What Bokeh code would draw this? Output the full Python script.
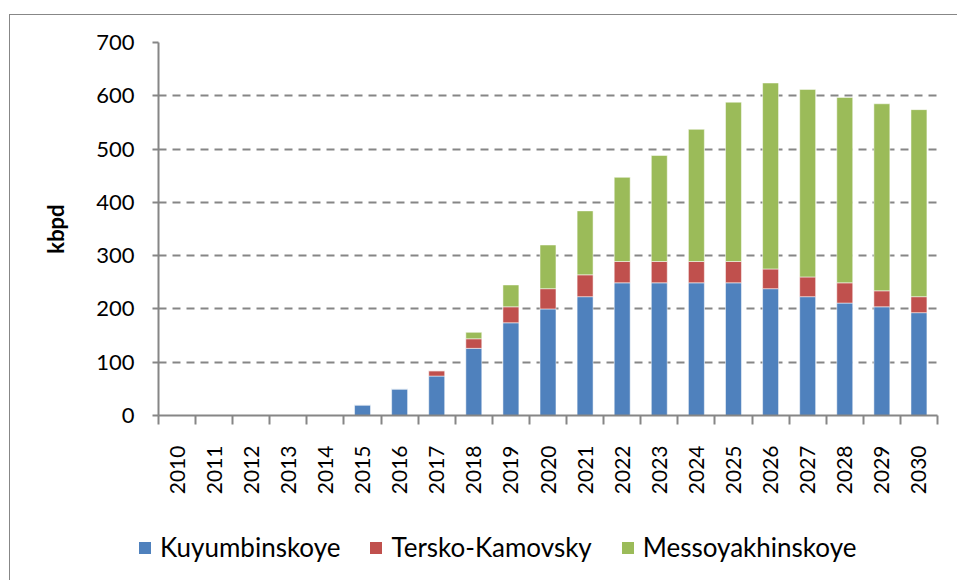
import math
from bokeh.plotting import figure
from bokeh.layouts import column
from bokeh.models import Range1d, FixedTicker, Legend, LegendItem
from bokeh.embed import file_html
from bokeh.resources import INLINE

years = list(range(2010, 2031))
series_names = ["Kuyumbinskoye", "Tersko-Kamovsky", "Messoyakhinskoye"]
kuyumbinskoye = [0, 0, 0, 0, 0, 20, 50, 74, 126, 174, 200, 223, 249, 249, 249, 249, 238, 223, 211, 204, 193]
tersko_kamovsky = [0, 0, 0, 0, 0, 0, 0, 10, 18, 30, 38, 41, 40, 40, 40, 40, 37, 37, 38, 30, 30]
messoyakhinskoye = [0, 0, 0, 0, 0, 0, 0, 0, 12, 41, 82, 120, 158, 199, 248, 299, 349, 352, 348, 351, 351]
y_ticks = [0, 100, 200, 300, 400, 500, 600, 700]
colors = ["#4F81BD", "#C0504D", "#9BBB59"]

FONT = "Lato"
n = len(years)
xc = [i + 0.5 for i in range(n)]
data = dict(x=xc, Kuyumbinskoye=kuyumbinskoye, **{"Tersko-Kamovsky": tersko_kamovsky},
            Messoyakhinskoye=messoyakhinskoye)

p = figure(width=947, height=495, output_backend="svg", toolbar_location=None,
           x_range=Range1d(0, n), y_range=Range1d(0, 700),
           min_border_left=148, min_border_right=20, min_border_top=27, min_border_bottom=95)
p.frame_align = False
p.outline_line_color = None
p.background_fill_color = "white"
p.border_fill_color = "white"

rs = p.vbar_stack(series_names, x="x", width=0.43, source=data, color=colors,
                  line_color="white", line_alpha=0.5, line_width=1)

# axes
p.xgrid.visible = False
p.ygrid.grid_line_color = "#868686"
p.ygrid.grid_line_width = 2
p.ygrid.grid_line_dash = "8 6"
p.yaxis.ticker = FixedTicker(ticks=y_ticks)
p.yaxis.axis_line_color = "#868686"
p.yaxis.axis_line_width = 2
p.yaxis.major_tick_line_color = "#868686"
p.yaxis.major_tick_line_width = 2
p.yaxis.major_tick_in = 0
p.yaxis.major_tick_out = 6
p.yaxis.minor_tick_line_color = None
p.yaxis.major_label_text_font = FONT
p.yaxis.major_label_text_font_size = "22px"
p.yaxis.major_label_text_color = "black"
p.yaxis.major_label_standoff = 18
p.yaxis.axis_label = "kbpd"
p.yaxis.axis_label_text_font = FONT
p.yaxis.axis_label_text_font_style = "bold"
p.yaxis.axis_label_text_font_size = "22px"
p.yaxis.axis_label_text_color = "black"
p.yaxis.axis_label_standoff = 24

p.xaxis.ticker = FixedTicker(ticks=xc, minor_ticks=list(range(n + 1)))
p.xaxis.major_label_overrides = {x: str(y) for x, y in zip(xc, years)}
p.xaxis.major_label_orientation = math.pi / 2
p.xaxis.axis_line_color = "#868686"
p.xaxis.axis_line_width = 2
p.xaxis.major_tick_line_color = None
p.xaxis.major_tick_in = 0
p.xaxis.major_tick_out = 0
p.xaxis.minor_tick_line_color = "#868686"
p.xaxis.minor_tick_line_width = 2
p.xaxis.minor_tick_in = 0
p.xaxis.minor_tick_out = 9
p.xaxis.major_label_text_font = FONT
p.xaxis.major_label_text_font_size = "21px"
p.xaxis.major_label_text_color = "black"
p.xaxis.major_label_standoff = 21

# legend strip below the chart (a second canvas so the legend is not clipped);
# the same stacked series are drawn there far outside its visible range, only to feed the legend
p2 = figure(width=947, height=70, output_backend="svg", toolbar_location=None,
            x_range=Range1d(0, n), y_range=Range1d(5000, 5001),
            min_border_left=0, min_border_right=0, min_border_top=0, min_border_bottom=0)
p2.frame_align = False
p2.axis.visible = False
p2.grid.visible = False
p2.outline_line_color = None
p2.border_fill_color = "white"
rs2 = p2.vbar_stack(series_names, x="x", width=0.43, source=data, color=colors, line_color=None)
legend = Legend(items=[LegendItem(label=nm, renderers=[r]) for nm, r in zip(series_names, rs2)],
                location=(127, 17), orientation="horizontal",
                label_text_font=FONT, label_text_font_size="26px", label_text_color="black",
                glyph_width=15, glyph_height=15, label_standoff=8, spacing=28,
                padding=0, margin=0, border_line_color=None, background_fill_alpha=0)
p2.add_layout(legend, "center")

root = column(p, p2, spacing=0, margin=(14, 0, 0, 9))
root.styles = {"border-left": "1px solid #878787", "border-top": "1px solid #878787"}

open("out.html", "w").write(file_html(root, INLINE))
